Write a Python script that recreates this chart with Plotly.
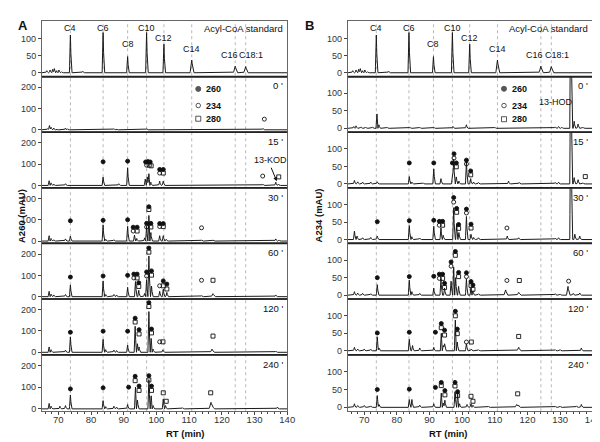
import numpy as np
import plotly.graph_objects as go

# ---------------- DATA ----------------
STD_RT = [73.7, 83.7, 91.2, 97.0, 102.3, 110.8, 124.1, 127.3]
STD_LABELS = ["C4", "C6", "C8", "C10", "C12", "C14", "C16", "C18:1"]
STD_LABEL_X = [73.7, 83.7, 91.2, 97.0, 102.3, 110.8, 122.2, 129.0]
STD_LABEL_Y = [131, 131, 83, 131, 102, 68, 51, 51]
STD_PEAKS = [(66.5, 6), (67.5, 8), (68.3, 10), (68.8, 12), (69.5, 6), (70.2, 8), (71, 3),
             (73.7, 110), (77.5, 4), (83.7, 117), (91.2, 47), (97.0, 117), (102.3, 83),
             (110.8, 37, 0.5), (124.1, 19, 0.55), (127.3, 18, 0.55)]

TIME_LABELS = ["0 '", "15 '", "30 '", "60 '", "120 '", "240 '"]

# Panel A (A260) peaks: (RT, height[, half-width])
A_PEAKS = [
    [(66.8, 6), (67.3, 20), (67.8, 12), (68.6, 8), (69.5, 4), (72.2, 8), (72.8, 5), (79, 3),
     (87, 5), (87.8, 4), (91.2, 3), (97, 4), (98.5, 3), (102.3, 3), (113, 2), (126, 2),
     (132.6, 6), (134.5, 2), (137, 3)],
    [(67.2, 22), (67.8, 12), (68.6, 6), (72.2, 8), (83.7, 39), (88.5, 8), (91.2, 83),
     (96.6, 30), (97.2, 40), (97.7, 55), (98.3, 15), (101.0, 20), (102.1, 20), (105, 3),
     (132.6, 6), (136.5, 15), (137.3, 6)],
    [(67.2, 25), (67.8, 12), (68.6, 6), (72.2, 10), (73.7, 23), (83.7, 75), (84.5, 8), (87, 6),
     (91.2, 69), (93.3, 28), (94, 12), (96.4, 15), (97.0, 70), (97.7, 120), (98.3, 40),
     (101.0, 25), (102.1, 25), (103, 8), (113.8, 4), (117.3, 4), (136.5, 10), (137.5, 5)],
    [(67.2, 25), (67.8, 12), (68.6, 8), (72.2, 10), (73.7, 55), (83.7, 74), (84.5, 10), (87, 10),
     (87.8, 8), (91.2, 44), (93.6, 71), (94.6, 30), (96.4, 15), (97.0, 80), (97.7, 191),
     (98.5, 50), (101.0, 25), (102.1, 35), (103.2, 20), (113.8, 4), (117.3, 14, 0.5), (136.5, 8)],
    [(67.2, 25), (67.8, 12), (72.2, 10), (73.7, 72), (83.7, 61), (84.5, 12), (87, 10), (87.8, 8),
     (91.2, 34), (93.5, 122), (94.2, 40), (94.7, 25), (97.7, 191), (98.4, 65), (99, 15),
     (102.0, 12), (117.0, 15, 0.5), (136.5, 6)],
    [(67.2, 25), (67.8, 12), (70.5, 12), (72.2, 15), (73.7, 64), (83.7, 38), (84.5, 10), (87, 12),
     (87.8, 8), (91.2, 20), (93.6, 100), (94.2, 40), (97.7, 135), (98.4, 60), (99, 15),
     (102.1, 45), (102.8, 15), (108, 5), (116.7, 30, 0.6), (117.3, 10), (137, 8)],
]
A_FILLED = [
    [],
    [(83.7, 111), (91.2, 114), (96.7, 110), (97.4, 112), (98.1, 110), (101.0, 75), (102.1, 75)],
    [(73.7, 95), (83.7, 97), (91.2, 100), (92.9, 65), (94.1, 65), (97.0, 83), (97.7, 161),
     (98.3, 83), (101.0, 82), (102.1, 82)],
    [(73.7, 92), (83.7, 97), (91.2, 100), (93.1, 106), (94.1, 106), (94.6, 65), (97.0, 116),
     (97.7, 228), (98.5, 121), (102.1, 74), (103.2, 59)],
    [(73.7, 94), (83.7, 99), (91.2, 99), (93.5, 160), (94.7, 106), (97.7, 233), (98.5, 109)],
    [(73.7, 92), (83.7, 97), (91.5, 100), (93.5, 150), (94.7, 105), (97.7, 153), (98.5, 105)],
]
A_OPEN = [
    [(133.0, 50)],
    [(97.0, 95), (101.0, 58), (132.5, 44)],
    [(92.9, 47), (97.0, 66), (101.0, 68), (113.8, 62)],
    [(93.1, 88), (97.0, 97), (101.0, 51), (113.8, 77)],
    [(101.0, 49)],
    [],
]
A_SQUARE = [
    [],
    [(97.8, 95), (98.4, 92), (102.1, 58), (137.4, 40)],
    [(94.1, 47), (97.7, 148), (98.3, 66), (102.1, 68)],
    [(94.1, 88), (94.6, 48), (97.7, 209), (98.5, 101), (102.1, 51), (103.2, 36), (117.3, 77)],
    [(93.5, 142), (94.7, 86), (97.7, 215), (98.5, 91), (102.0, 49), (117.3, 76)],
    [(93.5, 130), (94.7, 85), (97.7, 133), (98.5, 85), (102.1, 74), (103.0, 35), (116.6, 74)],
]

# Panel B (A234) peaks
B_PEAKS = [
    [(66.8, 5), (67.5, 7), (69, 4), (70.5, 3), (72.5, 4), (73.9, 41), (74.5, 10), (77, 3), (80, 2),
     (84, 3), (87, 3), (91.3, 3), (97.2, 5), (101.3, 10), (110, 3), (117, 2), (128.5, 4),
     (129.5, 5), (130.5, 3), (133.3, 500, 0.35), (134.3, 20), (135.5, 12), (137, 3)],
    [(67, 10), (68, 6), (69.5, 5), (72, 5), (74, 6), (79, 2), (83.8, 21), (84.6, 5), (88, 3),
     (91.3, 43), (93.5, 15), (97.0, 20), (97.4, 71), (98.2, 20), (99, 8), (101.3, 63),
     (102.6, 15), (103.5, 5), (105, 4), (114.2, 8), (117.5, 4), (128.5, 4), (129.5, 5),
     (133.3, 500, 0.35), (134.3, 18), (135.5, 12), (137, 3)],
    [(67, 24), (67.8, 10), (69.5, 5), (72, 6), (74, 10), (83.8, 40), (84.6, 8), (87, 4),
     (91.3, 38), (93.5, 33), (94.2, 12), (97.4, 91), (98.3, 45), (99, 20), (101.3, 66),
     (102.7, 15), (103.5, 6), (105, 5), (113.8, 10), (117.3, 5), (128.5, 4), (129.5, 5),
     (133.3, 500, 0.35), (134.5, 15), (136, 10)],
    [(67, 10), (68, 6), (69.5, 5), (72, 4), (74, 30), (83.8, 43), (84.6, 10), (87, 5), (91.3, 20),
     (93.5, 46), (94.6, 20), (96.6, 40), (97.4, 80), (98.0, 50), (98.9, 25), (101.3, 46),
     (102.7, 20), (103.3, 12), (105, 4), (113.3, 15, 0.5), (117.3, 8, 0.5), (128.5, 4), (130, 3),
     (132.4, 25, 0.45), (134, 5), (136, 6)],
    [(67, 10), (68, 5), (70, 5), (72, 4), (74, 40), (74.5, 8), (83.8, 33), (84.8, 15), (87, 8),
     (91.3, 10), (93.6, 50), (94.2, 15), (94.6, 20), (97.9, 88), (98.5, 25), (101.3, 20),
     (102.8, 5), (105, 3), (117.3, 10, 0.5), (128.5, 3), (130, 3), (136.5, 8)],
    [(67, 10), (68, 5), (70, 5), (72, 4), (74, 33), (74.5, 8), (83.8, 22), (84.6, 22), (87, 6),
     (91.3, 10), (93.6, 40), (94.2, 12), (94.7, 20), (97.8, 44), (98.6, 40), (99.2, 10),
     (101.5, 8), (102.7, 10), (103.3, 6), (108, 3), (116.7, 8, 0.5), (117.3, 6), (128.5, 3),
     (130, 3), (135, 4), (136.5, 8)],
]
B_FILLED = [
    [],
    [(83.8, 60), (91.3, 60), (97.0, 60), (97.5, 86), (98.2, 60), (101.3, 68), (102.6, 37)],
    [(74, 51), (83.8, 54), (91.3, 55), (93.0, 52), (94.0, 52), (97.4, 120), (98.3, 89),
     (98.9, 43), (101.3, 87), (102.7, 44)],
    [(74, 50), (83.8, 53), (91.3, 54), (93.0, 60), (94.0, 60), (94.6, 34), (96.6, 95),
     (97.9, 125), (98.9, 65), (101.3, 64), (102.7, 39), (103.3, 29)],
    [(74, 51), (83.8, 53), (91.8, 53), (93.6, 78), (94.6, 59), (97.9, 113), (98.5, 62)],
    [(74, 50), (83.8, 51), (91.8, 56), (93.6, 70), (94.7, 47), (97.8, 70), (98.6, 44)],
]
B_OPEN = [
    [],
    [(97.5, 74), (101.3, 57)],
    [(93.0, 41), (97.4, 107), (101.3, 76), (113.7, 33)],
    [(93.0, 48), (96.6, 83), (101.3, 53), (113.7, 42), (132.6, 40)],
    [(101.3, 25)],
    [],
]
B_SQUARE = [
    [],
    [(98.2, 49), (102.6, 26), (137.7, 21)],
    [(94.0, 41), (98.3, 78), (98.9, 32), (102.7, 33)],
    [(94.0, 48), (94.6, 22), (97.9, 114), (98.9, 53), (102.7, 28), (103.3, 17), (117.5, 42)],
    [(93.6, 66), (94.6, 45), (97.9, 100), (98.5, 49), (102.8, 25), (117.3, 41)],
    [(93.6, 61), (94.7, 35), (97.8, 60), (98.6, 33), (102.7, 31), (103.3, 17), (117.0, 38)],
]

LEGEND_NAMES = ["260", "234", "280"]
LEGEND_Y_A = [192, 114, 52]
LEGEND_Y_B = [113, 65, 26]
LEGEND_X = 112.8

X_TICKS = [70, 80, 90, 100, 110, 120, 130, 140]

# ---------------- LAYOUT ----------------
W, H = 600, 442
FONT = "Liberation Sans, Arial, sans-serif"
ROW_TOPS = [13, 69, 125, 181, 237, 293, 349]
ROW_BOTTOM = 406
XDOM = {0: [34.4 / W, 283 / W], 1: [344.5 / W, 592.7 / W]}
YR_STD = [-11, 151]
YR = {0: [-11, 250], 1: [-11, 148]}
YTICKS = {0: [0, 100, 200], 1: [0, 50, 100]}
LINE_COLOR = "#1a1a1a"
TXT = "#111"


def chrom(peaks):
    grid = np.arange(65, 140.0001, 0.05)
    x = np.unique(np.concatenate([grid, [p[0] for p in peaks]]))
    y = np.zeros_like(x)
    for p in peaks:
        rt, h = p[0], p[1]
        w = p[2] if len(p) > 2 else 0.3
        y += np.interp(x, [rt - w, rt, rt + w], [0, h, 0])
    return x, y


fig = go.Figure()
layout = {}
shapes = []
annotations = []


def ax_names(col, row):
    k = col * 7 + row + 1
    s = "" if k == 1 else str(k)
    return "x" + s, "y" + s, "xaxis" + s, "yaxis" + s


def rows_bounds(row):
    top = ROW_TOPS[row]
    bot = ROW_TOPS[row + 1] if row < 6 else ROW_BOTTOM
    return [1 - bot / H, 1 - top / H]


for col in (0, 1):
    peaks_list = A_PEAKS if col == 0 else B_PEAKS
    filled = A_FILLED if col == 0 else B_FILLED
    opens = A_OPEN if col == 0 else B_OPEN
    squares = A_SQUARE if col == 0 else B_SQUARE
    for row in range(7):
        xn, yn, xk, yk = ax_names(col, row)
        bottom = row == 6
        layout[xk] = dict(domain=XDOM[col], range=[65, 140], anchor=yn,
                          showline=True, mirror=True, linecolor="#666", linewidth=1,
                          showgrid=False, zeroline=False,
                          tickvals=X_TICKS, showticklabels=bottom,
                          ticks="outside" if bottom else "", ticklen=3, tickcolor="#444",
                          ticklabelstandoff=-4 if bottom else 0,
                          tickfont=dict(size=9.5, color="#333", family=FONT),
                          minor=dict(dtick=2, ticks="outside" if bottom else "", ticklen=2,
                                     tickcolor="#444", tick0=64))
        if row == 0:
            yr, yt = YR_STD, [0, 50, 100]
        else:
            yr, yt = YR[col], YTICKS[col]
        layout[yk] = dict(domain=rows_bounds(row), range=yr, anchor=xn,
                          showline=True, mirror=True, linecolor="#666", linewidth=1,
                          showgrid=False, zeroline=False, tickvals=yt,
                          ticks="outside", ticklen=3, tickcolor="#444",
                          tickfont=dict(size=9, color="#333", family=FONT))
        pk = STD_PEAKS if row == 0 else peaks_list[row - 1]
        x, y = chrom(pk)
        fig.add_trace(go.Scatter(x=x, y=y, mode="lines", xaxis=xn, yaxis=yn,
                                 line=dict(color=LINE_COLOR, width=1), showlegend=False,
                                 hoverinfo="skip"))
        if row == 0:
            for lx, lab, ly in zip(STD_LABEL_X, STD_LABELS, STD_LABEL_Y):
                annotations.append(dict(x=lx, y=ly, xref=xn, yref=yn, text=lab, showarrow=False,
                                        font=dict(size=9, color=TXT, family=FONT)))
            annotations.append(dict(x=0.99, y=0.87, xref=xn + " domain", yref=yn + " domain",
                                    text="Acyl-CoA standard", showarrow=False, xanchor="right",
                                    yanchor="middle", font=dict(size=9.5, color=TXT, family=FONT)))
            continue
        i = row - 1
        for pts, sym in ((filled[i], "circle"), (opens[i], "circle-open"), (squares[i], "square-open")):
            if pts:
                fig.add_trace(go.Scatter(x=[p[0] for p in pts], y=[p[1] for p in pts],
                                         mode="markers", xaxis=xn, yaxis=yn, cliponaxis=False,
                                         marker=dict(symbol=sym, size=4,
                                                     color="#111", line=dict(width=0.9, color="#111")),
                                         showlegend=False, hoverinfo="skip"))
        annotations.append(dict(x=0.99, y=0.83, xref=xn + " domain", yref=yn + " domain",
                                text=TIME_LABELS[i], showarrow=False, xanchor="right",
                                yanchor="middle", font=dict(size=9.5, color=TXT, family=FONT)))
        if i == 0:
            ly = LEGEND_Y_A if col == 0 else LEGEND_Y_B
            fig.add_trace(go.Scatter(x=[LEGEND_X] * 3, y=ly, mode="markers", xaxis=xn, yaxis=yn,
                                     marker=dict(symbol=["circle", "circle-open", "square-open"],
                                                 size=[5, 4.5, 5], color="#111",
                                                 line=dict(width=1, color="#111")),
                                     showlegend=False, hoverinfo="skip"))
            for nm, yy in zip(LEGEND_NAMES, ly):
                annotations.append(dict(x=LEGEND_X + 1.9, y=yy, xref=xn, yref=yn, text="<b>" + nm + "</b>",
                                        showarrow=False, xanchor="left",
                                        font=dict(size=9, color=TXT, family=FONT)))
    # vertical guides
    xn0 = ax_names(col, 0)[0]
    for rt in STD_RT:
        shapes.append(dict(type="line", xref=xn0, yref="paper", x0=rt, x1=rt,
                           y0=1 - ROW_BOTTOM / H, y1=1 - ROW_TOPS[0] / H, layer="below",
                           line=dict(color="#b8b8b8", width=1, dash="dot")))
    # dividers
    for r in range(1, 7):
        yy = 1 - ROW_TOPS[r] / H
        shapes.append(dict(type="line", xref="paper", yref="paper", x0=XDOM[col][0], x1=XDOM[col][1],
                           y0=yy, y1=yy, line=dict(color="#222", width=1.5)))

# 13-KOD (A, 15')
xa, ya = ax_names(0, 2)[:2]
annotations.append(dict(x=134.8, y=118, xref=xa, yref=ya, text="13-KOD", showarrow=False,
                        font=dict(size=9, color=TXT, family=FONT)))
annotations.append(dict(x=136.8, y=20, xref=xa, yref=ya, ax=134.9, ay=90, axref=xa, ayref=ya,
                        text="", showarrow=True, arrowhead=2, arrowsize=0.8, arrowwidth=1,
                        arrowcolor="#111"))
# 13-HOD (B, 0')
xb, yb = ax_names(1, 1)[:2]
annotations.append(dict(x=128.6, y=76, xref=xb, yref=yb, text="13-HOD", showarrow=False,
                        font=dict(size=9, color=TXT, family=FONT)))

# panel letters and axis titles
annotations += [
    dict(x=8 / W, y=1 - 8 / H, xref="paper", yref="paper", text="<b>A</b>", showarrow=False,
         font=dict(size=13, color=TXT, family=FONT)),
    dict(x=306 / W, y=1 - 8 / H, xref="paper", yref="paper", text="<b>B</b>", showarrow=False,
         font=dict(size=13, color=TXT, family=FONT)),
    dict(x=6 / W, y=1 - 209 / H, xref="paper", yref="paper", text="<b>A260 (mAU)</b>", textangle=-90,
         showarrow=False, font=dict(size=9.5, color=TXT, family=FONT)),
    dict(x=315 / W, y=1 - 209 / H, xref="paper", yref="paper", text="<b>A234 (mAU)</b>", textangle=-90,
         showarrow=False, font=dict(size=9.5, color=TXT, family=FONT)),
    dict(x=158 / W, y=1 - 436 / H, xref="paper", yref="paper", text="<b>RT (min)</b>",
         showarrow=False, font=dict(size=9.5, color=TXT, family=FONT)),
    dict(x=468 / W, y=1 - 436 / H, xref="paper", yref="paper", text="<b>RT (min)</b>",
         showarrow=False, font=dict(size=9.5, color=TXT, family=FONT)),
]

fig.update_layout(width=W, height=H, margin=dict(l=0, r=0, t=0, b=0),
                  paper_bgcolor="white", plot_bgcolor="white", showlegend=False,
                  font=dict(family=FONT), shapes=shapes, annotations=annotations, **layout)
fig.write_html("out.html")
